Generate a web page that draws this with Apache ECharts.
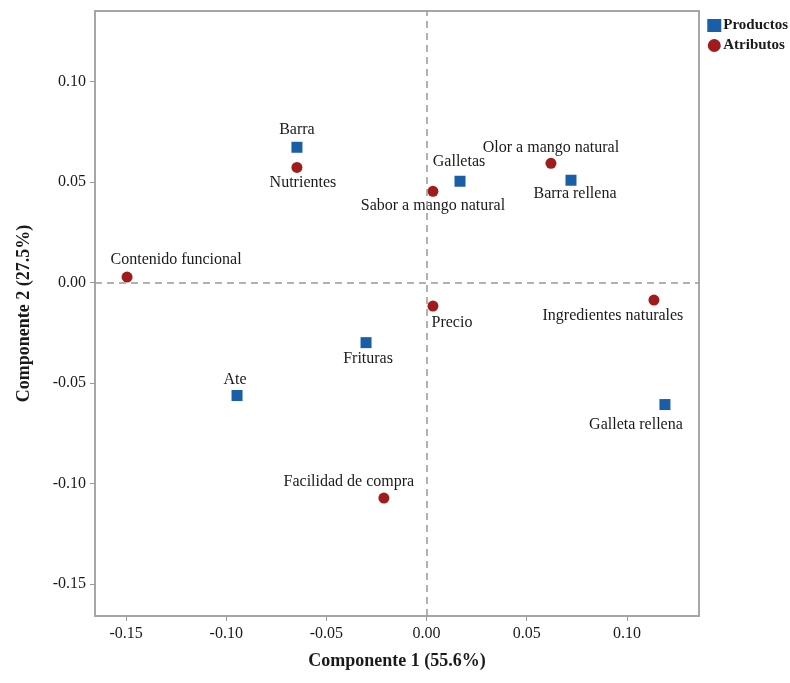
<!DOCTYPE html>
<html>
<head>
<meta charset="utf-8">
<script src="https://cdn.jsdelivr.net/npm/echarts@6/dist/echarts.min.js"></script>
<style>html,body{margin:0;padding:0;background:#fff}#c{width:790px;height:683px}</style>
</head>
<body>
<div id="c"></div>
<script>
// Data
const productNames = ['Barra', 'Galletas', 'Barra rellena', 'Frituras', 'Ate', 'Galleta rellena'];
const productX = [-0.0647, 0.0167, 0.0721, -0.0302, -0.0946, 0.1190];
const productY = [0.0672, 0.0503, 0.0508, -0.0300, -0.0563, -0.0608];

const attrNames = ['Nutrientes', 'Sabor a mango natural', 'Olor a mango natural', 'Contenido funcional', 'Precio', 'Ingredientes naturales', 'Facilidad de compra'];
const attrX = [-0.0647, 0.0032, 0.0621, -0.1495, 0.0032, 0.1135, -0.0213];
const attrY = [0.0572, 0.0453, 0.0592, 0.0026, -0.0118, -0.0088, -0.1073];

const tickValues = [-0.15, -0.10, -0.05, 0.00, 0.05, 0.10];

// Label placement (style): offset of label centre from marker centre, px
const labelOffsets = {
  'Barra': [0, -17],
  'Galletas': [-1, -19],
  'Barra rellena': [4, 14],
  'Frituras': [2, 16],
  'Ate': [-2, -16],
  'Galleta rellena': [-29, 20],
  'Nutrientes': [6, 15],
  'Sabor a mango natural': [0, 15],
  'Olor a mango natural': [0, -16],
  'Contenido funcional': [49, -17],
  'Precio': [19, 17],
  'Ingredientes naturales': [-41, 16],
  'Facilidad de compra': [-35, -16]
};

function build(names, xs, ys) {
  return names.map((n, i) => ({
    name: n,
    value: [xs[i], ys[i]],
    label: { offset: labelOffsets[n] || [0, 0] }
  }));
}

const serif = '"Liberation Serif", "Times New Roman", serif';
const labelStyle = {
  show: true, position: 'inside', formatter: p => p.name,
  fontFamily: serif, fontSize: 16, color: '#1a1a1a'
};

const chart = echarts.init(document.getElementById('c'));
chart.setOption({
  animation: false,
  backgroundColor: '#fff',
  grid: { left: 95, right: 91, top: 11, bottom: 67, show: true, borderColor: '#a6a6a6', borderWidth: 2, backgroundColor: '#fff' },
  legend: {
    orient: 'vertical', right: -3, top: 13, itemGap: 5, itemWidth: 14, itemHeight: 13,
    textStyle: { fontFamily: serif, fontSize: 15, fontWeight: 'bold', color: '#1a1a1a', padding: [0, 0, 0, -3] },
    data: [{ name: 'Productos', icon: 'rect' }, { name: 'Atributos', icon: 'circle' }]
  },
  xAxis: {
    type: 'value', min: -0.1655, max: 0.136,
    name: 'Componente 1 (55.6%)', nameLocation: 'middle', nameGap: 36,
    nameTextStyle: { fontFamily: serif, fontSize: 18, fontWeight: 'bold', color: '#1a1a1a' },
    axisLine: { show: false, onZero: false },
    axisTick: { show: true, length: 5, customValues: tickValues, lineStyle: { color: '#999' } },
    axisLabel: { customValues: tickValues, formatter: v => v.toFixed(2), fontFamily: serif, fontSize: 16, color: '#1a1a1a', margin: 10 },
    splitLine: { show: false }
  },
  yAxis: {
    type: 'value', min: -0.166, max: 0.135,
    name: 'Componente 2 (27.5%)', nameLocation: 'middle', nameGap: 62,
    nameTextStyle: { fontFamily: serif, fontSize: 18, fontWeight: 'bold', color: '#1a1a1a' },
    axisLine: { show: false, onZero: false },
    axisTick: { show: true, length: 5, customValues: tickValues, lineStyle: { color: '#999' } },
    axisLabel: { customValues: tickValues, formatter: v => v.toFixed(2), fontFamily: serif, fontSize: 16, color: '#1a1a1a', margin: 9 },
    splitLine: { show: false }
  },
  series: [
    {
      name: 'Productos', type: 'scatter', symbol: 'rect', symbolSize: 11,
      itemStyle: { color: '#1b5ea8', opacity: 1 },
      label: labelStyle,
      data: build(productNames, productX, productY),
      markLine: {
        silent: true, symbol: 'none', label: { show: false },
        lineStyle: { color: '#999', type: [7, 5], width: 1.5 },
        data: [{ xAxis: 0 }, { yAxis: 0 }]
      },
      z: 3
    },
    {
      name: 'Atributos', type: 'scatter', symbol: 'circle', symbolSize: 11,
      itemStyle: { color: '#a01c1c', opacity: 1 },
      label: labelStyle,
      data: build(attrNames, attrX, attrY),
      z: 3
    }
  ]
});
</script>
</body>
</html>
